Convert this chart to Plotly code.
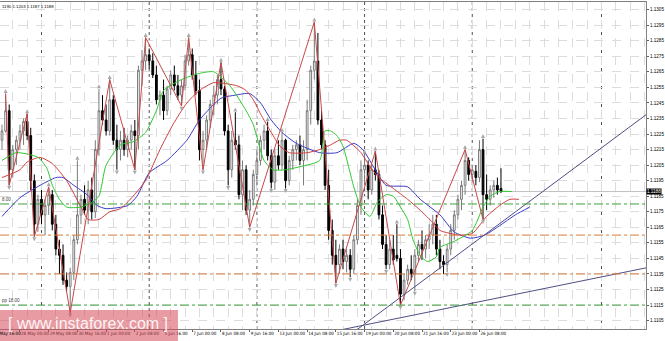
import plotly.graph_objects as go

# ---------------- data ----------------
bar_index = list(range(140))
open_ = [1.1221,1.1227,1.1240,1.1202,1.1215,1.1221,1.1227,1.1233,1.1224,1.1195,
         1.1167,1.1183,1.1173,1.1179,1.1186,1.1167,1.1151,1.1147,1.1131,1.1127,
         1.1136,1.1157,1.1173,1.1183,1.1176,1.1189,1.1175,1.1215,1.1240,1.1234,
         1.1227,1.1247,1.1221,1.1215,1.1221,1.1215,1.1221,1.1227,1.1224,1.1266,
         1.1272,1.1276,1.1272,1.1263,1.1247,1.1250,1.1240,1.1254,1.1263,1.1256,
         1.1250,1.1256,1.1272,1.1276,1.1263,1.1253,1.1215,1.1221,1.1234,1.1244,
         1.1250,1.1260,1.1254,1.1227,1.1202,1.1221,1.1218,1.1186,1.1202,1.1176,
         1.1183,1.1199,1.1208,1.1221,1.1227,1.1211,1.1194,1.1211,1.1205,1.1221,
         1.1195,1.1208,1.1215,1.1218,1.1208,1.1215,1.1240,1.1266,1.1272,1.1234,
         1.1218,1.1192,1.1163,1.1147,1.1141,1.1151,1.1143,1.1147,1.1138,1.1157,
         1.1179,1.1202,1.1205,1.1189,1.1202,1.1199,1.1173,1.1154,1.1141,1.1151,
         1.1147,1.1145,1.1122,1.1131,1.1138,1.1135,1.1147,1.1154,1.1151,1.1157,
         1.1160,1.1167,1.1151,1.1143,1.1141,1.1151,1.1163,1.1173,1.1183,1.1192,
         1.1208,1.1199,1.1201,1.1197,1.1215,1.1186,1.1183,1.1189,1.1192,1.1190]
high = [1.1231,1.1251,1.1244,1.1218,1.1224,1.1231,1.1235,1.1238,1.1229,1.1199,
        1.1186,1.1189,1.1183,1.1191,1.1189,1.1173,1.1157,1.1154,1.1136,1.1139,
        1.1160,1.1208,1.1186,1.1192,1.1195,1.1197,1.1221,1.1254,1.1250,1.1244,
        1.1260,1.1250,1.1231,1.1227,1.1229,1.1224,1.1231,1.1234,1.1269,1.1279,
        1.1287,1.1280,1.1277,1.1269,1.1253,1.1260,1.1256,1.1266,1.1269,1.1263,
        1.1260,1.1276,1.1287,1.1280,1.1272,1.1260,1.1227,1.1237,1.1247,1.1256,
        1.1263,1.1271,1.1256,1.1231,1.1227,1.1239,1.1224,1.1208,1.1205,1.1189,
        1.1202,1.1215,1.1224,1.1231,1.1233,1.1215,1.1215,1.1221,1.1226,1.1222,
        1.1211,1.1218,1.1221,1.1224,1.1221,1.1247,1.1269,1.1297,1.1290,1.1240,
        1.1221,1.1202,1.1170,1.1157,1.1154,1.1157,1.1151,1.1151,1.1160,1.1183,
        1.1208,1.1212,1.1208,1.1205,1.1214,1.1202,1.1179,1.1160,1.1157,1.1160,
        1.1167,1.1151,1.1135,1.1141,1.1147,1.1151,1.1157,1.1163,1.1160,1.1167,
        1.1173,1.1173,1.1157,1.1147,1.1154,1.1167,1.1176,1.1186,1.1195,1.1215,
        1.1210,1.1205,1.1205,1.1221,1.1222,1.1199,1.1192,1.1195,1.1197,1.1203]
low = [1.1215,1.1226,1.1192,1.1197,1.1205,1.1215,1.1218,1.1221,1.1189,1.1159,
       1.1162,1.1167,1.1160,1.1173,1.1163,1.1147,1.1135,1.1128,1.1124,1.1110,
       1.1131,1.1154,1.1167,1.1173,1.1167,1.1170,1.1171,1.1211,1.1231,1.1224,
       1.1224,1.1218,1.1202,1.1208,1.1211,1.1210,1.1215,1.1202,1.1215,1.1256,
       1.1266,1.1267,1.1261,1.1244,1.1237,1.1234,1.1237,1.1250,1.1253,1.1247,
       1.1243,1.1253,1.1269,1.1260,1.1250,1.1208,1.1202,1.1215,1.1229,1.1237,
       1.1244,1.1250,1.1224,1.1192,1.1197,1.1215,1.1183,1.1176,1.1173,1.1165,
       1.1179,1.1192,1.1205,1.1215,1.1208,1.1190,1.1189,1.1202,1.1202,1.1190,
       1.1192,1.1202,1.1208,1.1205,1.1192,1.1208,1.1231,1.1260,1.1231,1.1215,
       1.1189,1.1157,1.1141,1.1129,1.1135,1.1138,1.1136,1.1133,1.1135,1.1154,
       1.1173,1.1192,1.1183,1.1186,1.1195,1.1170,1.1151,1.1138,1.1138,1.1141,
       1.1143,1.1115,1.1118,1.1128,1.1131,1.1124,1.1143,1.1144,1.1145,1.1151,
       1.1154,1.1147,1.1138,1.1135,1.1136,1.1147,1.1157,1.1170,1.1176,1.1186,
       1.1195,1.1194,1.1192,1.1194,1.1170,1.1176,1.1179,1.1184,1.1186,1.1187]
close = [1.1227,1.1240,1.1202,1.1215,1.1221,1.1227,1.1233,1.1224,1.1195,1.1167,
         1.1183,1.1173,1.1179,1.1186,1.1167,1.1151,1.1147,1.1131,1.1127,1.1136,
         1.1157,1.1173,1.1183,1.1176,1.1189,1.1175,1.1215,1.1240,1.1234,1.1227,
         1.1247,1.1221,1.1215,1.1221,1.1215,1.1221,1.1227,1.1224,1.1266,1.1272,
         1.1276,1.1272,1.1263,1.1247,1.1250,1.1240,1.1254,1.1263,1.1256,1.1250,
         1.1256,1.1272,1.1276,1.1263,1.1253,1.1215,1.1221,1.1234,1.1244,1.1250,
         1.1260,1.1254,1.1227,1.1202,1.1221,1.1218,1.1186,1.1202,1.1176,1.1183,
         1.1199,1.1208,1.1221,1.1227,1.1211,1.1194,1.1211,1.1205,1.1221,1.1195,
         1.1208,1.1215,1.1218,1.1208,1.1215,1.1240,1.1266,1.1272,1.1234,1.1218,
         1.1192,1.1163,1.1147,1.1141,1.1151,1.1143,1.1147,1.1138,1.1157,1.1179,
         1.1202,1.1205,1.1189,1.1202,1.1199,1.1173,1.1154,1.1141,1.1151,1.1144,
         1.1145,1.1122,1.1131,1.1138,1.1135,1.1147,1.1154,1.1151,1.1157,1.1160,
         1.1167,1.1151,1.1143,1.1141,1.1151,1.1163,1.1173,1.1183,1.1192,1.1208,
         1.1199,1.1202,1.1197,1.1215,1.1186,1.1183,1.1189,1.1192,1.1189,1.1188]

tick_index = [5,13,21,29,37,45,53,61,69,77,85,93,101,109,117,125,133]
tick_text = ["28 May 00:00","29 May 08:00","30 May 16:00","1 Jun 00:00","2 Jun 08:00",
             "5 Jun 16:00","7 Jun 00:00","8 Jun 08:00","9 Jun 16:00","13 Jun 00:00",
             "14 Jun 08:00","15 Jun 16:00","19 Jun 00:00","20 Jun 08:00","21 Jun 16:00",
             "23 Jun 00:00","26 Jun 08:00"]
first_label = "26 May 16:00"
price_ticks = [1.1105,1.1115,1.1125,1.1135,1.1145,1.1155,1.1165,1.1175,1.1185,1.1195,
               1.1205,1.1215,1.1225,1.1235,1.1245,1.1255,1.1265,1.1275,1.1285,1.1295,1.1305]

week_sep = [11, 41, 71, 101, 131, 167]

# Alligator lines (read at sample bars; already include forward shift)
lips_idx = [0,4,10,12.5,14,16,18,22,25,27,29,33,36.5,40,43,45,50,55,59,63.5,68,70,73,75.5,79,83,
            88.5,90,91.5,93.3,95,98,100,102.5,104.5,107,109,111,113,114.5,116.5,118.5,121,122,126,
            131,134,136,138.6,142]
lips_val = [1.1208,1.1213,1.1210,1.1203,1.1192,1.1183,1.1178,1.1178,1.1181,1.1185,1.1205,1.1218,
            1.1220,1.1226,1.1240,1.1253,1.1260,1.1264,1.1265,1.1256,1.1240,1.1231,1.1208,1.1202,
            1.1202,1.1204,1.1208,1.1227,1.1227,1.1224,1.1217,1.1191,1.1178,1.1172,1.1181,1.1186,
            1.1185,1.1178,1.1170,1.1157,1.1147,1.1143,1.1146,1.1152,1.1156,1.1163,1.1178,1.1185,
            1.1188,1.1188]
teeth_idx = [0,5,7,10.6,14,18,22,24,27,30,33,36.5,40,44,47.6,51.5,55,59,65.5,68,70,72,75,77.5,80,
             85,88.5,91.5,94,96,100,102.5,105,109,113,116.5,120,122,127.5,131,135,138.6,141.5,144]
teeth_val = [1.1197,1.1202,1.1207,1.1210,1.1206,1.1195,1.1178,1.1170,1.1170,1.1175,1.1177,1.1185,
             1.1195,1.1215,1.1231,1.1245,1.1253,1.1258,1.1256,1.1253,1.1247,1.1238,1.1226,1.1217,
             1.1213,1.1213,1.1215,1.1218,1.1221,1.1221,1.1213,1.1204,1.1197,1.1190,1.1183,1.1176,
             1.1168,1.1163,1.1160,1.1161,1.1172,1.1179,1.1183,1.1183]
jaw_idx = [0,5,10.6,15,17,20,23.7,26.5,29,35,37.6,41,46,51.5,55,61,65,69,72,75,78,82,88.5,93.3,98,
           100.5,104.5,107,113,116.5,122,126,130.5,134.5,138.6,143,147]
jaw_val = [1.1172,1.1184,1.1192,1.1197,1.1197,1.1192,1.1186,1.1179,1.1177,1.1179,1.1185,1.1200,
           1.1208,1.1221,1.1234,1.1248,1.1250,1.1251,1.1245,1.1234,1.1226,1.1219,1.1213,1.1213,
           1.1219,1.1215,1.1200,1.1192,1.1191,1.1183,1.1173,1.1162,1.1158,1.1160,1.1166,1.1173,1.1178]

zz_idx = [1,2,7,9,13,19,30,37,40,50,52,56,61,69,87,93,104,111,129,134]
zz_val = [1.1251,1.1192,1.1238,1.1159,1.1191,1.1110,1.1260,1.1202,1.1287,1.1243,1.1287,1.1202,
          1.1271,1.1165,1.1297,1.1129,1.1214,1.1115,1.1215,1.1170]

frac_up_idx = [1,7,13,21,27,30,40,52,61,65,74,78,87,101,104,110,129,134]
frac_up_val = [1.1254,1.1241,1.1194,1.1211,1.1257,1.1263,1.1290,1.1290,1.1274,1.1242,1.1236,
               1.1229,1.1300,1.1215,1.1217,1.1170,1.1218,1.1225]
frac_dn_idx = [2,9,19,32,37,50,56,63,69,75,79,93,97,107,111,115,124,134]
frac_dn_val = [1.1189,1.1156,1.1107,1.1199,1.1199,1.1240,1.1199,1.1189,1.1162,1.1187,1.1187,
               1.1126,1.1130,1.1135,1.1112,1.1121,1.1133,1.1167]

trend1_idx = [95, 180]
trend1_val = [1.10925, 1.12384]
trend2_idx = [90, 180]
trend2_val = [1.10970, 1.11392]

green_levels = [1.1180, 1.1115]
orange_levels = [1.1160, 1.1135]
last_price = 1.1188
header = "1190 1.1203 1.1187 1.1188"

SMALL = "Liberation Sans Narrow, DejaVu Sans Condensed, Liberation Sans, Arial"
PLAIN = "Liberation Sans, Arial"

# ---------------- figure ----------------
fig = go.Figure()

for xs, ys, col in [(jaw_idx, jaw_val, "#3a3ac8"), (teeth_idx, teeth_val, "#d04040"),
                    (lips_idx, lips_val, "#2ec82e")]:
    fig.add_trace(go.Scatter(x=xs, y=ys, mode="lines",
                             line=dict(color=col, width=1, shape="spline", smoothing=0.6),
                             hoverinfo="skip", showlegend=False))

fig.add_trace(go.Scatter(x=zz_idx, y=zz_val, mode="lines", line=dict(color="#c84848", width=1),
                         hoverinfo="skip", showlegend=False))

fig.add_trace(go.Candlestick(
    x=bar_index, open=open_, high=high, low=low, close=close,
    increasing=dict(line=dict(color="#7a7a7a", width=1), fillcolor="#ffffff"),
    decreasing=dict(line=dict(color="#000000", width=1), fillcolor="#000000"),
    whiskerwidth=0, showlegend=False, hoverinfo="skip"))

fig.add_trace(go.Scatter(x=frac_up_idx, y=frac_up_val, mode="markers",
                         marker=dict(symbol="arrow-up", size=4, color="#a8a8a8"),
                         showlegend=False, hoverinfo="skip"))
fig.add_trace(go.Scatter(x=frac_dn_idx, y=frac_dn_val, mode="markers",
                         marker=dict(symbol="arrow-down", size=4, color="#a8a8a8"),
                         showlegend=False, hoverinfo="skip"))

for xs, ys in [(trend1_idx, trend1_val), (trend2_idx, trend2_val)]:
    fig.add_trace(go.Scatter(x=xs, y=ys, mode="lines", line=dict(color="#4e4e86", width=1),
                             hoverinfo="skip", showlegend=False))

shapes = []
for s in week_sep:
    shapes.append(dict(type="line", xref="x", yref="paper", x0=s, x1=s, y0=0, y1=1,
                       line=dict(color="#505050", width=1, dash="dot"), layer="below"))
for lv in green_levels:
    shapes.append(dict(type="line", xref="paper", yref="y", x0=0, x1=1, y0=lv, y1=lv,
                       line=dict(color="#3ca03c", width=1, dash="dashdot")))
for lv in orange_levels:
    shapes.append(dict(type="line", xref="paper", yref="y", x0=0, x1=1, y0=lv, y1=lv,
                       line=dict(color="#d87a3c", width=1, dash="dashdot")))
shapes.append(dict(type="line", xref="paper", yref="y", x0=0, x1=1, y0=last_price, y1=last_price,
                   line=dict(color="#c0c0c0", width=1), layer="below"))
# watermark box
shapes.append(dict(type="rect", xref="paper", yref="paper", x0=0, x1=0.2755, y0=-0.037, y1=0.058,
                   fillcolor="rgba(214,72,88,0.55)", line=dict(width=0)))

annotations = [
    dict(text="[ www.instaforex.com ]", xref="paper", yref="paper", x=0.136, y=0.018,
         xanchor="center", yanchor="middle", showarrow=False,
         font=dict(family="Liberation Sans, Arial", size=16, color="rgba(255,255,255,0.9)")),
    dict(text=header, xref="paper", yref="paper", x=0, y=1.0, xanchor="left", yanchor="top",
         showarrow=False, font=dict(family=PLAIN, size=4.3, color="#000000")),
    dict(text="8.00", xref="paper", yref="y", x=0, y=green_levels[0], xanchor="left", yanchor="bottom",
         showarrow=False, font=dict(family=PLAIN, size=4.5, color="#404040")),
    dict(text="pp 18.00", xref="paper", yref="y", x=0, y=green_levels[1], xanchor="left", yanchor="bottom",
         showarrow=False, font=dict(family=PLAIN, size=4.5, color="#404040")),
    dict(text=first_label, xref="paper", yref="paper", x=-0.014, y=0.0, xanchor="left", yanchor="top",
         showarrow=False, font=dict(family=SMALL, size=4.5, color="#000000")),
    dict(text="%.4f" % last_price, xref="paper", yref="y", x=1.0, y=last_price, xanchor="left",
         yanchor="middle", showarrow=False, bgcolor="#000000", borderpad=0,
         font=dict(family=PLAIN, size=4.6, color="#ffffff")),
]

fig.update_layout(
    width=665, height=341, margin=dict(l=0, r=19, t=2, b=12),
    paper_bgcolor="white", plot_bgcolor="white",
    shapes=shapes, annotations=annotations, showlegend=False,
    xaxis=dict(range=[-0.56, 179.4], rangeslider=dict(visible=False), tickmode="array",
               tickvals=tick_index, ticktext=tick_text, ticks="outside", ticklen=2, tickcolor="#606060",
               ticklabelposition="outside right", tickangle=0,
               tickfont=dict(family=SMALL, size=4.5, color="#000000"),
               showgrid=False, showline=True, linecolor="#808080", linewidth=1, mirror=True,
               zeroline=False,
               minor=dict(dtick=4, tick0=3, showgrid=True, gridcolor="#dcdcdc", griddash="dash", gridwidth=1)),
    yaxis=dict(range=[1.10996, 1.13099], side="right", tickmode="array", tickvals=price_ticks,
               ticktext=["%.4f" % v for v in price_ticks], ticks="outside", ticklen=2, tickcolor="#606060",
               tickfont=dict(family=PLAIN, size=4.6, color="#000000"),
               showgrid=True, gridcolor="#dcdcdc", griddash="dash", gridwidth=1,
               showline=True, linecolor="#808080", linewidth=1, mirror=True, zeroline=False),
)

fig.write_html("out.html")
